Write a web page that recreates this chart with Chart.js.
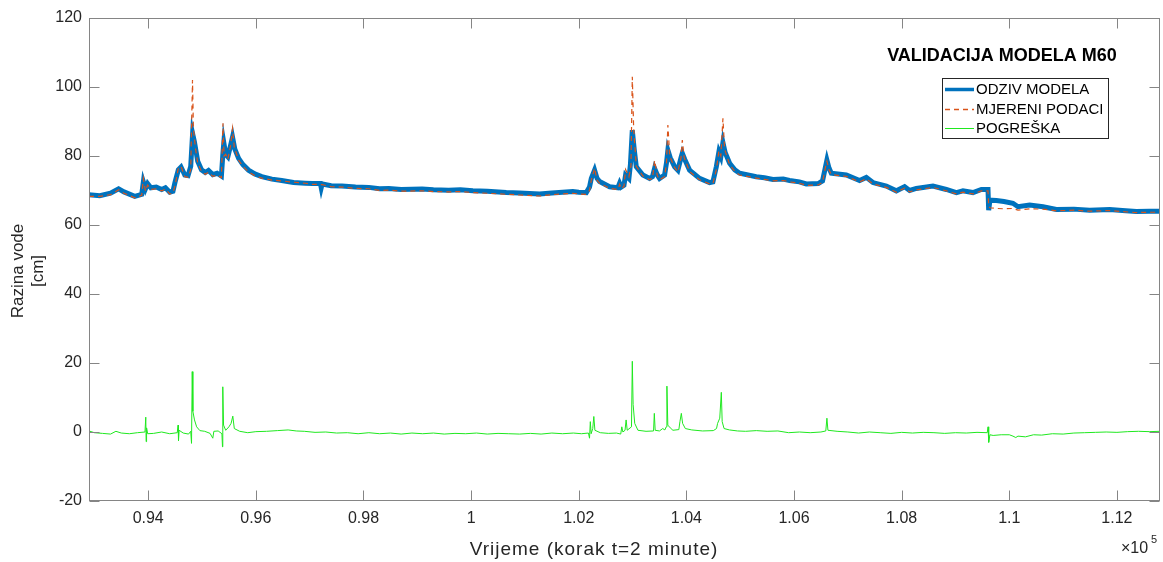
<!DOCTYPE html>
<html><head><meta charset="utf-8">
<script src="https://cdn.jsdelivr.net/npm/chart.js@4.4.0/dist/chart.umd.min.js"></script>
<style>html,body{margin:0;padding:0;background:#fff;}canvas{display:block;}</style>
</head><body>
<canvas id="c" width="1163" height="562"></canvas>
<script>
// ---- data (x in time steps, y in cm) ----
const modelX = [92900,93100,93300,93450,93550,93750,93880,93910,93950,93990,94050,94150,94250,94320,94400,94460,94500,94560,94610,94680,94740,94790,94825,94860,94920,94990,95060,95120,95200,95280,95360,95385,95405,95440,95480,95530,95567,95610,95680,95760,95864,95980,96110,96300,96480,96700,96920,97050,97200,97215,97232,97400,97600,97852,98100,98300,98471,98700,99090,99300,99581,99800,100032,100300,100653,100900,101272,101500,101891,102000,102140,102200,102233,102294,102340,102387,102573,102727,102759,102790,102840,102870,102932,102960,102995,103030,103069,103192,103316,103370,103409,103460,103502,103595,103630,103656,103700,103781,103842,103900,103924,103970,104059,104245,104431,104493,104556,104604,104640,104679,104720,104803,104900,104989,105299,105450,105608,105800,105918,106100,106228,106450,106530,106580,106611,106650,106693,106971,107219,107343,107466,107715,107901,108055,108148,108272,108581,108830,109016,109139,109325,109481,109604,109617,109640,109759,109900,110068,110161,110378,110626,110875,111200,111494,111866,112100,112360,112600,112800];
const modelY = [68.8,68.5,69.2,70.5,69.6,68.3,68.9,72.5,70.5,72.0,70.8,71.0,70.3,70.8,69.5,69.8,72.5,76.0,76.8,74.5,74.3,77.0,86.5,84.0,78.5,76.0,75.2,75.8,74.6,75.0,74.2,80.0,83.8,80.5,79.8,83.0,85.5,82.0,79.3,77.5,75.9,74.8,74.0,73.3,72.9,72.3,72.1,72.0,72.0,70.8,71.9,71.4,71.3,71.0,70.9,70.5,70.6,70.3,70.4,70.2,70.1,70.2,69.9,69.8,69.4,69.3,69.0,69.3,69.7,69.5,69.4,71.0,73.5,75.9,73.5,72.6,71.1,70.8,72.1,71.0,71.5,74.5,73.5,77.5,87.5,82.0,76.9,74.5,73.5,74.0,76.4,74.5,73.5,74.5,78.0,81.7,79.5,76.9,75.9,79.5,80.8,79.0,75.9,73.5,72.3,72.5,76.9,81.2,79.8,83.9,81.0,77.9,76.0,75.0,74.0,73.7,73.2,73.3,72.9,72.5,71.9,72.0,72.8,76.5,78.8,76.5,75.0,74.5,72.9,73.8,72.3,71.3,69.9,71.1,70.0,70.6,71.3,70.3,69.4,69.9,69.4,70.3,70.3,64.3,67.2,67.1,66.8,66.3,65.3,65.8,65.3,64.5,64.6,64.3,64.5,64.2,63.9,64.0,64.0];

const measX = [92900,93100,93300,93450,93550,93750,93880,93910,93950,93990,94050,94150,94250,94320,94400,94460,94500,94560,94610,94680,94740,94790,94823,94840,94880,94920,94990,95060,95120,95200,95280,95360,95390,95410,95440,95480,95530,95567,95600,95680,95760,95864,95980,96110,96300,96480,96700,96920,97050,97232,97400,97600,97852,98100,98300,98471,98700,99090,99300,99581,99800,100032,100300,100653,100900,101272,101500,101891,102000,102140,102200,102233,102294,102340,102387,102573,102727,102759,102790,102840,102870,102932,102970,102995,103020,103069,103192,103316,103370,103409,103460,103502,103595,103630,103656,103690,103781,103842,103900,103924,103960,104059,104245,104431,104493,104556,104604,104640,104679,104710,104803,104900,104989,105299,105450,105608,105800,105918,106100,106228,106450,106530,106580,106611,106650,106693,106971,107219,107343,107466,107715,107901,108055,108148,108272,108581,108830,109016,109139,109325,109481,109604,109617,109640,109759,109900,110068,110161,110378,110626,110875,111200,111494,111866,112100,112360,112600,112800];
const measY = [68.3,68.3,68.8,70.2,69.2,67.9,68.6,73.5,69.8,71.6,70.3,70.5,69.9,70.4,69.0,69.3,71.5,76.5,77.0,74.0,73.8,76.0,102.0,88.0,82.0,78.0,75.5,74.7,75.3,74.1,74.5,73.7,89.5,80.0,80.5,79.0,83.0,88.0,82.5,78.8,77.0,75.4,74.3,73.6,73.0,72.8,72.4,72.1,71.8,71.7,71.1,71.0,70.6,70.5,70.0,70.1,69.8,69.9,69.7,69.6,69.7,69.4,69.2,68.9,68.7,68.4,68.8,69.2,69.0,68.9,70.0,73.0,76.5,73.0,72.1,70.6,70.3,71.8,70.5,71.2,76.1,74.0,77.0,103.0,88.0,77.0,74.2,73.1,73.6,78.7,74.3,73.1,74.0,78.0,89.0,80.0,76.6,75.4,79.5,84.6,79.5,75.5,73.1,71.9,72.0,76.0,81.5,80.0,90.9,82.0,77.5,75.5,74.5,73.6,73.2,72.8,72.9,72.5,72.1,71.5,71.6,72.4,76.5,78.5,76.0,74.6,74.1,72.5,73.4,71.9,70.9,69.5,70.7,69.6,70.2,70.9,69.9,69.0,69.5,69.0,69.9,69.9,65.3,65.0,64.8,64.7,64.8,64.3,64.7,64.6,64.1,64.3,64.0,64.2,63.9,63.6,63.7,63.7];

const errX = [92900,93000,93150,93300,93400,93500,93650,93800,93940,93955,93962,93970,93990,94100,94250,94400,94540,94555,94563,94575,94650,94750,94790,94805,94818,94830,94860,94900,94960,95050,95150,95200,95220,95300,95370,95380,95386,95400,95440,95500,95540,95572,95600,95700,95850,96000,96200,96400,96600,96750,96900,97100,97300,97500,97700,97900,98100,98300,98500,98700,98900,99100,99300,99500,99700,99900,100100,100300,100500,100700,100900,101100,101300,101500,101700,101900,102050,102180,102200,102215,102230,102260,102280,102300,102400,102550,102700,102780,102800,102820,102860,102880,102900,102980,102995,103010,103040,103100,103250,103390,103404,103420,103500,103560,103600,103625,103638,103655,103700,103750,103860,103880,103906,103930,103980,104100,104300,104500,104560,104580,104620,104649,104665,104700,104800,104950,105100,105300,105500,105700,105900,106100,106300,106500,106590,106611,106630,106800,107000,107200,107400,107600,107800,108000,108200,108400,108600,108800,109000,109200,109400,109590,109605,109617,109640,109700,109850,110000,110068,110120,110161,110300,110450,110600,110800,111000,111200,111400,111600,111800,112000,112200,112400,112600,112800];
const errY = [0.3,-0.2,-0.4,-0.6,0.2,-0.3,-0.5,-0.2,0.0,4.3,-2.8,1.2,-0.5,-0.4,0.0,-0.5,-0.2,2.0,-2.5,0.5,-0.3,-0.6,0.2,-3.3,17.5,6.0,3.5,1.5,0.4,0.2,-0.4,-1.8,0.2,0.3,-0.5,-4.3,13.1,2.0,0.5,1.5,2.5,4.6,1.0,0.2,-0.2,0.1,0.2,0.4,0.6,0.3,0.2,-0.1,0.0,-0.3,-0.2,-0.5,-0.2,-0.5,-0.3,-0.6,-0.3,-0.5,-0.3,-0.6,-0.4,-0.5,-0.3,-0.6,-0.4,-0.5,-0.6,-0.4,-0.6,-0.3,-0.5,-0.3,-0.5,-0.3,-1.8,3.0,-0.5,1.0,4.5,0.5,-0.2,-0.4,-0.3,-0.6,1.5,0.0,0.5,3.5,0.5,1.5,20.5,8.0,2.5,0.5,0.2,0.3,5.4,0.5,0.3,1.0,0.6,1.5,13.3,2.0,1.2,0.5,0.7,3.0,5.4,2.5,1.0,0.6,0.3,0.4,1.0,2.5,4.0,11.5,3.0,1.0,0.6,0.3,0.2,0.4,0.2,0.3,-0.2,0.0,-0.2,0.0,0.3,4.0,0.5,0.2,0.0,-0.3,0.0,-0.2,-0.4,-0.1,-0.3,-0.1,-0.2,-0.4,-0.2,-0.3,-0.1,-0.2,1.5,-3.0,-0.8,-1.0,-0.8,-0.8,-1.2,-1.6,-1.2,-1.4,-0.8,-0.9,-0.5,-0.6,-0.3,-0.2,-0.1,0.0,-0.1,0.1,0.2,0.1,0.2];

const xTickValues = [94000,96000,98000,100000,102000,104000,106000,108000,110000,112000];
const xTickLabels = ['0.94','0.96','0.98','1','1.02','1.04','1.06','1.08','1.1','1.12'];
const yTickValues = [-20,0,20,40,60,80,100,120];
const seriesNames = ['ODZIV MODELA','MJERENI PODACI','POGREŠKA'];
const chartTitle = 'VALIDACIJA MODELA M60';
const xTitle = 'Vrijeme (korak t=2 minute)';
const yTitle = ['Razina vode','[cm]'];

const FONT = "'Liberation Sans', Arial, Helvetica, sans-serif";
const C_MODEL = '#0072BD', C_MEAS = '#D95319', C_ERR = '#1fe81f';
const pts = (xs, ys) => xs.map((x, i) => ({x, y: ys[i]}));

const decor = {
  id: 'decor',
  afterDraw(chart) {
    const {ctx, chartArea: a, scales: {x, y}} = chart;
    ctx.save();
    // frame
    ctx.strokeStyle = '#858585'; ctx.lineWidth = 1;
    const L = a.left + 0.5, R = a.right - 0.5, T = a.top + 0.5, B = a.bottom - 0.5;
    ctx.strokeRect(L, T, R - L, B - T);
    ctx.beginPath();
    xTickValues.forEach(v => {
      const px = Math.round(x.getPixelForValue(v)) + 0.5;
      ctx.moveTo(px, B); ctx.lineTo(px, B - 10);
      ctx.moveTo(px, T); ctx.lineTo(px, T + 10);
    });
    yTickValues.forEach(v => {
      const py = Math.round(y.getPixelForValue(v)) + 0.5;
      ctx.moveTo(L, py); ctx.lineTo(L + 10, py);
      ctx.moveTo(R, py); ctx.lineTo(R - 10, py);
    });
    ctx.stroke();

    // title inside axes
    ctx.fillStyle = '#000';
    ctx.font = 'bold 18px ' + FONT;
    ctx.textAlign = 'center'; ctx.textBaseline = 'alphabetic';
    ctx.fillText(chartTitle, 1002, 61);

    // legend
    const bx = 942, by = 78, bw = 166, bh = 60;
    ctx.fillStyle = '#fff';
    ctx.fillRect(bx, by, bw, bh);
    ctx.strokeStyle = '#262626'; ctx.lineWidth = 1;
    ctx.strokeRect(bx + 0.5, by + 0.5, bw, bh);
    const rows = [89, 109, 128];
    const styles = [
      {c: C_MODEL, w: 3.5, d: []},
      {c: C_MEAS, w: 1.5, d: [5, 4]},
      {c: C_ERR, w: 1, d: []}
    ];
    ctx.font = '15px ' + FONT; ctx.textAlign = 'left'; ctx.textBaseline = 'middle';
    rows.forEach((ry, i) => {
      ctx.beginPath();
      ctx.strokeStyle = styles[i].c; ctx.lineWidth = styles[i].w; ctx.setLineDash(styles[i].d);
      ctx.moveTo(945, ry + 0.5); ctx.lineTo(974, ry + 0.5); ctx.stroke();
      ctx.setLineDash([]);
      ctx.fillStyle = '#000';
      ctx.fillText(seriesNames[i], 976, ry + 1);
    });

    // axis titles
    ctx.fillStyle = '#262626';
    ctx.textAlign = 'center'; ctx.textBaseline = 'middle';
    ctx.font = '19px ' + FONT;
    if ('letterSpacing' in ctx) ctx.letterSpacing = '1px';
    ctx.fillText(xTitle, 594, 550);
    if ('letterSpacing' in ctx) ctx.letterSpacing = '0px';
    ctx.font = '17px ' + FONT;
    ctx.save();
    ctx.translate(18, 271); ctx.rotate(-Math.PI / 2);
    ctx.fillText(yTitle[0], 0, 0);
    ctx.restore();
    ctx.save();
    ctx.translate(38, 271); ctx.rotate(-Math.PI / 2);
    ctx.fillText(yTitle[1], 0, 0);
    ctx.restore();

    // exponent
    ctx.textAlign = 'left'; ctx.textBaseline = 'alphabetic';
    ctx.font = '16px ' + FONT;
    ctx.fillText('\u00d710', 1121, 553);
    ctx.font = '11px ' + FONT;
    ctx.fillText('5', 1151, 543);
    ctx.restore();
  }
};

new Chart(document.getElementById('c'), {
  type: 'scatter',
  data: {
    datasets: [
      {label: seriesNames[1], data: pts(measX, measY), showLine: true, borderColor: C_MEAS, borderWidth: 1.2, borderDash: [5, 4], pointRadius: 0, order: 0, tension: 0},
      {label: seriesNames[0], data: pts(modelX, modelY), showLine: true, borderColor: C_MODEL, borderWidth: 5, pointRadius: 0, order: 1, tension: 0},
      {label: seriesNames[2], data: pts(errX, errY), showLine: true, borderColor: C_ERR, borderWidth: 1, pointRadius: 0, order: 2, tension: 0}
    ]
  },
  options: {
    responsive: false, animation: false, devicePixelRatio: 1,
    layout: {padding: {top: 18, right: 3, left: 0, bottom: 0}},
    plugins: {legend: {display: false}, tooltip: {enabled: false}, title: {display: false}},
    scales: {
      x: {
        type: 'linear', min: 92900, max: 112800,
        grid: {display: false, drawTicks: false}, border: {display: false},
        afterBuildTicks: s => { s.ticks = xTickValues.map(v => ({value: v})); },
        afterFit: s => { s.height = 61; },
        ticks: {autoSkip: false, maxRotation: 0, padding: 8, color: '#262626', font: {family: FONT, size: 16},
          callback: v => xTickLabels[xTickValues.indexOf(v)]}
      },
      y: {
        type: 'linear', min: -20, max: 120,
        grid: {display: false, drawTicks: false}, border: {display: false},
        afterBuildTicks: s => { s.ticks = yTickValues.map(v => ({value: v})); },
        afterFit: s => { s.width = 89; },
        ticks: {autoSkip: false, padding: 7, color: '#262626', font: {family: FONT, size: 16},
          callback: v => String(v)}
      }
    }
  },
  plugins: [decor]
});
</script>
</body></html>
